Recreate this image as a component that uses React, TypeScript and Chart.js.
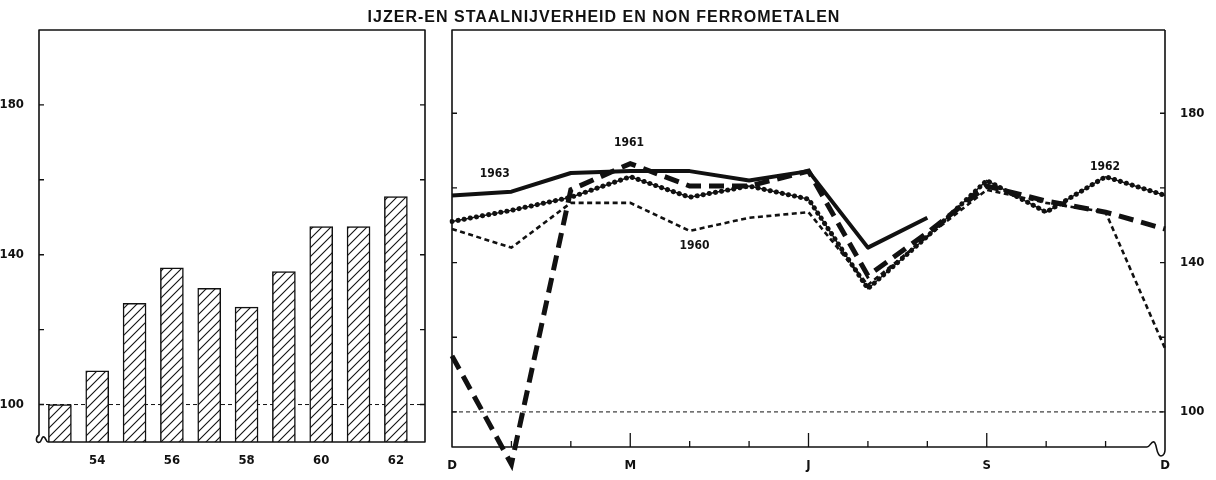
import React, { useEffect, useRef } from 'react';
import { Chart, registerables } from 'chart.js';

Chart.register(...registerables);

// ---------- data ----------
const TITLE = 'IJZER-EN STAALNIJVERHEID EN NON FERROMETALEN';

// left panel: yearly index (1953 = 100)
const YEARS = [53, 54, 55, 56, 57, 58, 59, 60, 61, 62];
const ANNUAL_INDEX = [100, 109, 127, 136.5, 131, 126, 135.5, 147.5, 147.5, 155.5];
const YEAR_TICKS = [54, 56, 58, 60, 62];

// right panel: monthly index, December of previous year .. December
const MONTHS = ['D', 'J', 'F', 'M', 'A', 'M', 'J', 'J', 'A', 'S', 'O', 'N', 'D'];
const MAJOR_MONTHS = [0, 3, 6, 9, 12];
const SERIES_1960 = [149, 144, 156, 156, 148.5, 152, 153.5, 134, 147, 159.5, 156, 153.5, 117];
const SERIES_1961 = [115, 86, 159.5, 166.5, 160.5, 160.5, 164.5, 136.5, 148, 160.5, 156.5, 153.5, 149];
const SERIES_1962 = [151, 154, 157.5, 163, 157.5, 160.5, 157, 133, 147, 162, 153.5, 163, 158];
const SERIES_1963 = [158, 159, 164, 164.5, 164.5, 162, 164.5, 144, 152, null, null, null, null];

const SERIES_LABELS = [
  { text: '1963', month: 0.72, value: 163.7 },
  { text: '1961', month: 2.98, value: 172 },
  { text: '1960', month: 4.08, value: 144.4 },
  { text: '1962', month: 10.99, value: 165.6 },
];

const Y_TICKS = [100, 120, 140, 160, 180];
const Y_LABELS = [100, 140, 180];
const BASE_INDEX = 100;

// ---------- styling helpers ----------
const FONT_FAMILY = "'DejaVu Sans Condensed', 'DejaVu Sans', sans-serif";
const tickFont = { family: FONT_FAMILY, size: 13, weight: 'bold' as const };
const INK = '#111';

function makeHatch(): CanvasPattern | string {
  const s = 9;
  const c = document.createElement('canvas');
  c.width = s;
  c.height = s;
  const g = c.getContext('2d');
  if (!g) return '#fff';
  g.fillStyle = '#fff';
  g.fillRect(0, 0, s, s);
  g.strokeStyle = INK;
  g.lineWidth = 1.1;
  g.beginPath();
  g.moveTo(0, s);
  g.lineTo(s, 0);
  g.moveTo(-s / 2, s / 2);
  g.lineTo(s / 2, -s / 2);
  g.moveTo(s / 2, s * 1.5);
  g.lineTo(s * 1.5, s / 2);
  g.stroke();
  return g.createPattern(c, 'repeat') || '#fff';
}

function drawBaseLine(chart: any) {
  const { ctx, chartArea } = chart;
  const y = chart.scales.y.getPixelForValue(BASE_INDEX);
  ctx.save();
  ctx.strokeStyle = INK;
  ctx.lineWidth = 1;
  ctx.setLineDash([4, 3]);
  ctx.beginPath();
  ctx.moveTo(chartArea.left, y);
  ctx.lineTo(chartArea.right, y);
  ctx.stroke();
  ctx.restore();
}

function drawYTicks(chart: any) {
  const { ctx, chartArea } = chart;
  const ys = chart.scales.y;
  ctx.save();
  ctx.strokeStyle = INK;
  ctx.lineWidth = 1.4;
  ctx.beginPath();
  Y_TICKS.forEach((v) => {
    const y = ys.getPixelForValue(v);
    ctx.moveTo(chartArea.left, y);
    ctx.lineTo(chartArea.left + 5, y);
    ctx.moveTo(chartArea.right - 5, y);
    ctx.lineTo(chartArea.right, y);
  });
  ctx.stroke();
  ctx.restore();
}

const leftDecor = {
  id: 'leftDecor',
  beforeDatasetsDraw(chart: any) {
    drawBaseLine(chart);
  },
  afterDraw(chart: any) {
    const { ctx, chartArea } = chart;
    const { left, right, top, bottom } = chartArea;
    ctx.save();
    ctx.strokeStyle = INK;
    ctx.lineWidth = 1.6;
    ctx.lineJoin = 'round';
    ctx.beginPath();
    ctx.moveTo(left + 9, bottom);
    ctx.lineTo(right, bottom);
    ctx.lineTo(right, top);
    ctx.lineTo(left, top);
    ctx.lineTo(left, bottom - 7);
    // axis break symbol
    ctx.bezierCurveTo(left - 4, bottom - 4, left - 3, bottom + 2, left + 1, bottom);
    ctx.bezierCurveTo(left + 3, bottom - 2, left + 3, bottom - 6, left + 5, bottom - 5);
    ctx.bezierCurveTo(left + 7, bottom - 4, left + 7, bottom, left + 9, bottom);
    ctx.stroke();
    ctx.restore();
    drawYTicks(chart);
  },
};

const rightDecor = {
  id: 'rightDecor',
  beforeDatasetsDraw(chart: any) {
    drawBaseLine(chart);
  },
  afterDraw(chart: any) {
    const { ctx, chartArea } = chart;
    const { left, right, top, bottom } = chartArea;
    const xs = chart.scales.x;
    const ys = chart.scales.y;
    ctx.save();
    ctx.strokeStyle = INK;
    ctx.lineWidth = 1.6;
    ctx.lineJoin = 'round';
    ctx.beginPath();
    ctx.moveTo(right, top);
    ctx.lineTo(left, top);
    ctx.lineTo(left, bottom);
    ctx.lineTo(right - 18, bottom);
    // axis break symbol
    ctx.bezierCurveTo(right - 15, bottom, right - 14, bottom - 6, right - 11, bottom - 5);
    ctx.bezierCurveTo(right - 8, bottom - 4, right - 9, bottom + 9, right - 4, bottom + 9);
    ctx.bezierCurveTo(right - 1, bottom + 9, right, bottom + 5, right, bottom + 3);
    ctx.lineTo(right, top);
    ctx.stroke();

    // month ticks (inward)
    ctx.lineWidth = 1.3;
    ctx.beginPath();
    for (let i = 1; i < MONTHS.length - 1; i++) {
      const x = xs.getPixelForValue(i);
      const len = MAJOR_MONTHS.includes(i) ? 14 : 6;
      ctx.moveTo(x, bottom);
      ctx.lineTo(x, bottom - len);
    }
    ctx.stroke();

    // series labels
    ctx.fillStyle = INK;
    ctx.font = `bold 12px ${FONT_FAMILY}`;
    ctx.textAlign = 'center';
    ctx.textBaseline = 'middle';
    SERIES_LABELS.forEach((a) => {
      ctx.fillText(a.text, xs.getPixelForValue(a.month), ys.getPixelForValue(a.value));
    });
    ctx.restore();
    drawYTicks(chart);
  },
};

function leftConfig(): any {
  return {
    type: 'bar',
    data: {
      datasets: [
        {
          data: YEARS.map((y, i) => ({ x: y, y: ANNUAL_INDEX[i] })),
          backgroundColor: makeHatch(),
          borderColor: INK,
          borderWidth: 1.5,
          borderSkipped: 'bottom',
          barThickness: 23,
        },
      ],
    },
    options: {
      animation: false,
      responsive: false,
      devicePixelRatio: 1,
      layout: { padding: { top: 30, right: 15, left: 0, bottom: 0 } },
      plugins: { legend: { display: false }, tooltip: { enabled: false }, title: { display: false } },
      scales: {
        x: {
          type: 'linear',
          offset: false,
          min: 52.44,
          max: 62.78,
          afterBuildTicks: (s: any) => {
            s.ticks = YEAR_TICKS.map((v) => ({ value: v }));
          },
          afterFit: (s: any) => {
            s.height = 38;
          },
          grid: { display: false },
          border: { display: false },
          ticks: { padding: 3, font: tickFont, color: INK, maxRotation: 0, autoSkip: false, callback: (v: any) => String(v) },
        },
        y: {
          type: 'linear',
          min: 90,
          max: 200,
          afterBuildTicks: (s: any) => {
            s.ticks = Y_TICKS.map((v) => ({ value: v }));
          },
          afterFit: (s: any) => {
            s.width = 39;
          },
          grid: { display: false },
          border: { display: false },
          ticks: {
            padding: 7,
            font: tickFont,
            color: INK,
            callback: (v: any) => (Y_LABELS.includes(v) ? String(v) : ''),
          },
        },
      },
    },
    plugins: [leftDecor],
  };
}

function rightConfig(): any {
  const common = { pointRadius: 0, tension: 0, fill: false, borderColor: INK, spanGaps: false };
  return {
    type: 'line',
    data: {
      labels: MONTHS,
      datasets: [
        { ...common, label: '1960', data: SERIES_1960, borderWidth: 2.6, borderDash: [5, 3.5], borderCapStyle: 'butt' },
        { ...common, label: '1962', data: SERIES_1962, borderWidth: 1.4 },
        {
          ...common,
          label: '1962 dots',
          data: SERIES_1962,
          borderWidth: 5,
          borderDash: [0.01, 6.2],
          borderCapStyle: 'round',
        },
        { ...common, label: '1963', data: SERIES_1963, borderWidth: 4, borderJoinStyle: 'round' },
        {
          ...common,
          label: '1961',
          data: SERIES_1961,
          borderWidth: 5,
          borderDash: [15, 8],
          borderCapStyle: 'butt',
          clip: false,
        },
      ],
    },
    options: {
      animation: false,
      responsive: false,
      devicePixelRatio: 1,
      layout: { padding: { top: 30, right: 0, left: 12, bottom: 0 } },
      plugins: { legend: { display: false }, tooltip: { enabled: false }, title: { display: false } },
      scales: {
        x: {
          type: 'category',
          offset: false,
          afterFit: (s: any) => {
            s.height = 33;
          },
          grid: { display: false },
          border: { display: false },
          ticks: {
            padding: 3,
            font: tickFont,
            color: INK,
            maxRotation: 0,
            autoSkip: false,
            callback: (_v: any, i: number) => (MAJOR_MONTHS.includes(i) ? MONTHS[i] : ''),
          },
        },
        y: {
          type: 'linear',
          position: 'right',
          min: 90.6,
          max: 202.3,
          afterBuildTicks: (s: any) => {
            s.ticks = Y_TICKS.map((v) => ({ value: v }));
          },
          afterFit: (s: any) => {
            s.width = 51;
          },
          grid: { display: false },
          border: { display: false },
          ticks: {
            padding: 7,
            font: tickFont,
            color: INK,
            callback: (v: any) => (Y_LABELS.includes(v) ? String(v) : ''),
          },
        },
      },
    },
    plugins: [rightDecor],
  };
}

export default function App() {
  const leftRef = useRef<HTMLCanvasElement>(null);
  const rightRef = useRef<HTMLCanvasElement>(null);

  useEffect(() => {
    if (!leftRef.current || !rightRef.current) return;
    const left = new Chart(leftRef.current, leftConfig());
    const right = new Chart(rightRef.current, rightConfig());
    return () => {
      left.destroy();
      right.destroy();
    };
  }, []);

  return (
    <div style={{ position: 'fixed', left: 0, top: 0, width: 1216, height: 480, background: '#fff', overflow: 'hidden' }}>
      <canvas ref={leftRef} width={440} height={480} style={{ position: 'absolute', left: 0, top: 0, width: 440, height: 480 }} />
      <canvas ref={rightRef} width={776} height={480} style={{ position: 'absolute', left: 440, top: 0, width: 776, height: 480 }} />
      <div
        style={{
          position: 'absolute',
          left: 0,
          top: 7,
          width: 1208,
          textAlign: 'center',
          fontFamily: "'Liberation Sans', Arial, sans-serif",
          fontWeight: 'bold',
          fontSize: 16,
          lineHeight: '20px',
          letterSpacing: 1,
          color: INK,
        }}
      >
        {TITLE}
      </div>
    </div>
  );
}
